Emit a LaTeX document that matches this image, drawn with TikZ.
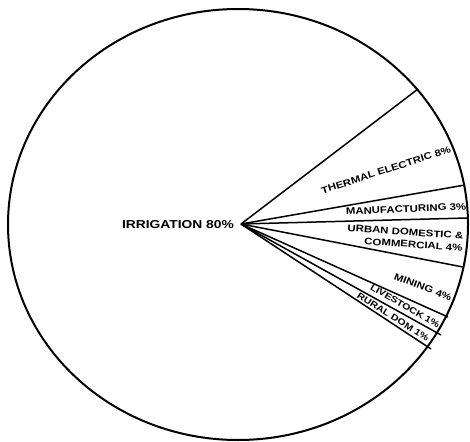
\documentclass[tikz,border=0pt]{standalone}
\usepackage{fontspec}
\newfontfamily\labfont[FakeStretch=1.2]{Liberation Sans}
\begin{document}
\begin{tikzpicture}[x=1pt,y=-1pt,
  rim/.style={line width=2pt},
  seg/.style={line width=1.5pt},
  lab/.style={font=\labfont\bfseries\fontsize{9.5}{12}\selectfont, inner sep=0pt, align=right},
  smalllab/.style={font=\labfont\bfseries\fontsize{8.8}{11}\selectfont, inner sep=0pt},
  biglab/.style={font=\labfont\bfseries\fontsize{11.5}{13}\selectfont, inner sep=0pt}]
\useasboundingbox (0,0) rectangle (470,441);
\draw[rim] (238,224.5) ellipse [x radius=230, y radius=215.5];
\coordinate (hub) at (241,224);
\coordinate (pA) at (418,89);
\coordinate (pB) at (465,185);
\coordinate (pC) at (467,218);
\coordinate (pD) at (463,267);
\coordinate (pE) at (448,317);
\coordinate (pF) at (441,335);
\coordinate (pG) at (431,349);
\foreach \p in {pA,pB,pC,pD,pE,pF,pG} \draw[seg] (hub) -- (\p);
\node[biglab, anchor=east] (irr) at (234,225) {IRRIGATION 80\%};
\node[lab, rotate=18] (the) at (386,170) {THERMAL ELECTRIC 8\%};
\node[lab, rotate=2.5] (man) at (406,209) {MANUFACTURING 3\%};
\node[lab, rotate=-4] (urb) at (405,238) {URBAN DOMESTIC \&\\COMMERCIAL 4\%};
\node[lab, rotate=-21] (min) at (423,287) {MINING 4\%};
\node[smalllab, rotate=-30] (liv) at (405,306) {LIVESTOCK 1\%};
\node[smalllab, rotate=-32] (rur) at (393,317) {RURAL DOM 1\%};
\end{tikzpicture}
\end{document}
